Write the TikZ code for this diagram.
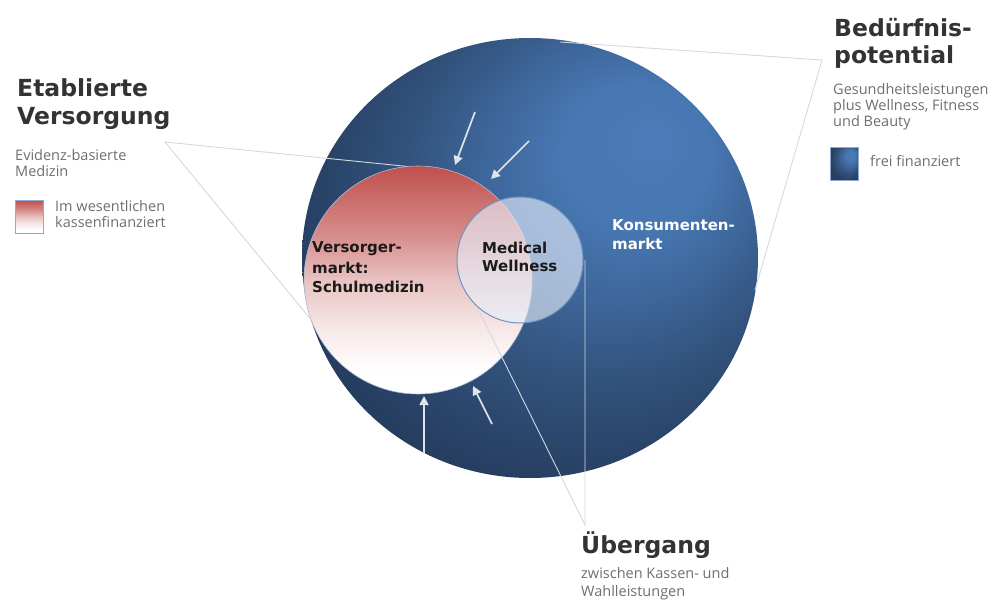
\documentclass[tikz,border=0pt]{standalone}
\usepackage{fontspec}
\setmainfont{Open Sans}
\newfontfamily\dv{DejaVu Sans}
\usetikzlibrary{arrows.meta,shapes.geometric}
\definecolor{bLa}{HTML}{4B7CB9}
\definecolor{bLb}{HTML}{4877B2}
\definecolor{bMa}{HTML}{3D6699}
\definecolor{bMb}{HTML}{32527C}
\definecolor{bDa}{HTML}{2C476D}
\definecolor{bDb}{HTML}{253D5E}
\definecolor{bDc}{HTML}{233A59}
\definecolor{rTop}{HTML}{C0504D}
\definecolor{rA}{HTML}{D68C8A}
\definecolor{rB}{HTML}{E8C2C1}
\definecolor{rC}{HTML}{F6E6E6}
\definecolor{titlegrey}{HTML}{333333}
\definecolor{bodygrey}{HTML}{6E6E6E}
\definecolor{labelblack}{HTML}{1A1A1A}
\definecolor{calloutgrey}{HTML}{D2D8E0}
\definecolor{arrowgrey}{HTML}{DDE3EA}
\definecolor{mwfill}{HTML}{E8F0FC}
\definecolor{mwline}{HTML}{6F93C4}
\definecolor{redline}{HTML}{A9BEDB}
\definecolor{legline}{HTML}{8EAAD0}
\pgfdeclareradialshading{bigblue}{\pgfpoint{14bp}{14bp}}{color(0bp)=(bLa); color(8bp)=(bLb); color(15bp)=(bMa); color(22bp)=(bMb); color(27bp)=(bDa); color(32bp)=(bDb); color(50bp)=(bDc)}
\pgfdeclareverticalshading{redfade}{100bp}{color(0bp)=(white); color(30bp)=(white); color(40bp)=(rC); color(50bp)=(rB); color(60bp)=(rA); color(75bp)=(rTop); color(100bp)=(rTop)}
\begin{document}
\begin{tikzpicture}[x=1pt,y=-1pt,
  title/.style={anchor=base west, inner sep=0pt, align=left, text=titlegrey, font=\dv\bfseries\fontsize{23.5}{28}\selectfont},
  body/.style={anchor=base west, inner sep=0pt, align=left, text=bodygrey, font=\fontsize{14.5}{16}\selectfont},
  circlabel/.style={anchor=base west, inner sep=0pt, align=left, text=labelblack, font=\dv\bfseries\fontsize{15}{20}\selectfont},
  callout/.style={draw=calloutgrey, line width=0.9pt},
  arr/.style={draw=arrowgrey, line width=1.7pt, -{Triangle[length=9pt,width=9pt]}}]
\useasboundingbox (0,0) rectangle (1000,601);
% circles
\node[ellipse, minimum width=456pt, minimum height=440pt, inner sep=0pt, shade, shading=bigblue] (big) at (530,258) {};
\node[circle, minimum size=228pt, inner sep=0pt, shade, shading=redfade, draw=redline, line width=0.6pt] (red) at (418,280) {};
\node[circle, minimum size=126pt, inner sep=0pt, fill=mwfill, fill opacity=0.62, draw=mwline, draw opacity=1, line width=1pt] (mw) at (520,260) {};
% callout apex points
\coordinate (apexL) at (165,142);
\coordinate (apexR) at (822,60);
\coordinate (apexB) at (585,525);
\coordinate (bigtop) at (560,42);
\coordinate (bigright) at (755,290);
\coordinate (mwbot) at (480,313);
\coordinate (mwright) at (585,260);
\draw[callout] (red.96) -- (apexL) -- (red.200);
\draw[callout] (bigtop) -- (apexR) -- (bigright);
\draw[callout] (mwbot) -- (apexB) -- (mwright);
% arrows
\coordinate (a1s) at (475,112); \coordinate (a1e) at (455,165);
\coordinate (a2s) at (529,141); \coordinate (a2e) at (491,179);
\coordinate (a3s) at (424,453); \coordinate (a3e) at (424,396);
\coordinate (a4s) at (492,424); \coordinate (a4e) at (473,386);
\draw[arr] (a1s) -- (a1e);
\draw[arr] (a2s) -- (a2e);
\draw[arr] (a3s) -- (a3e);
\draw[arr] (a4s) -- (a4e);
% legend squares
\node[minimum width=28pt, minimum height=33pt, inner sep=0pt, anchor=north west, shade, shading=redfade, draw=legline, line width=0.6pt] (legL) at (15,200) {};
\node[minimum width=28pt, minimum height=33pt, inner sep=0pt, anchor=north west, shade, shading=bigblue, draw=legline, line width=0.4pt] (legR) at (830,147) {};
% texts (anchor = baseline of the last line)
\node[title] (tEtab) at (17,125) {Etablierte\\Versorgung};
\node[body] (tEvid) at (15,177) {Evidenz-basierte\\Medizin};
\node[body] (tKasse) at (55,228) {Im wesentlichen\\kassenfinanziert};
\node[title, font=\dv\bfseries\fontsize{23.5}{27}\selectfont] (tBed) at (834,64) {Bedürfnis-\\potential};
\node[body] (tGes) at (833,127) {Gesundheitsleistungen\\plus Wellness, Fitness\\und Beauty};
\node[body] (tFrei) at (870,167) {frei finanziert};
\node[title] (tUeb) at (581,553) {Übergang};
\node[body, font=\fontsize{14.5}{18}\selectfont] (tZw) at (581,596) {zwischen Kassen- und\\Wahlleistungen};
\node[circlabel] (tVers) at (312,293) {Versorger-\\markt:\\Schulmedizin};
\node[circlabel, font=\dv\bfseries\fontsize{15}{18}\selectfont] (tMW) at (482,272) {Medical\\Wellness};
\node[circlabel, text=white, font=\dv\bfseries\fontsize{15}{19}\selectfont] (tKons) at (612,250) {Konsumenten-\\markt};
\end{tikzpicture}
\end{document}
